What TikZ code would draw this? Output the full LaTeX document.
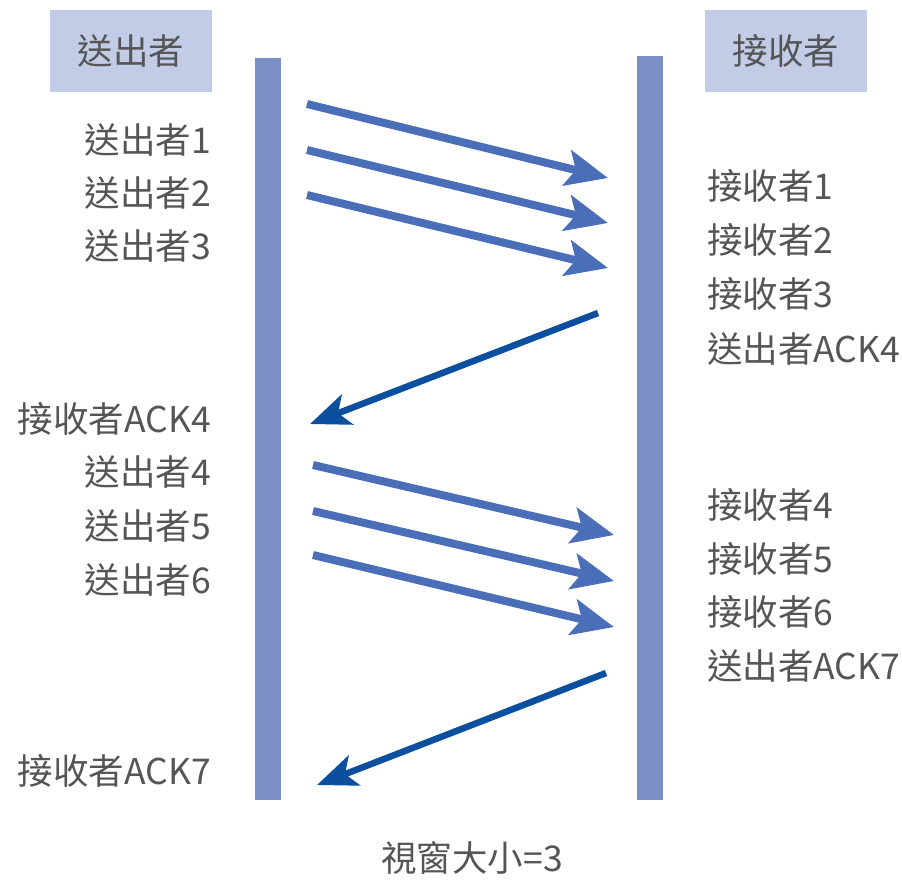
\documentclass[tikz,border=0pt]{standalone}
\usepackage{fontspec}
\setmainfont{Noto Sans CJK TC}
\usetikzlibrary{arrows.meta}
\definecolor{hdrfill}{HTML}{C2CCE6}
\definecolor{barcol}{HTML}{7A90C4}
\definecolor{fwdcol}{HTML}{4A6FB8}
\definecolor{backcol}{HTML}{0B4F9E}
\definecolor{txtcol}{HTML}{555555}
\tikzset{
  hdr/.style={fill=hdrfill, minimum width=162pt, minimum height=82pt, inner sep=0pt, text=txtcol, font=\fontsize{35.5}{38}\selectfont},
  lbl/.style={inner sep=0pt, text=txtcol, font=\fontsize{35.5}{38}\selectfont},
  lftlbl/.style={lbl, anchor=east},
  rgtlbl/.style={lbl, anchor=west},
  vbar/.style={fill=barcol, draw=none},
  fwd/.style={draw=fwdcol, line width=8pt, -{Stealth[length=42pt, width=36pt, inset=9pt]}},
  back/.style={draw=backcol, line width=6.5pt, -{Stealth[length=40pt, width=32pt, inset=10pt]}},
}
\begin{document}
\begin{tikzpicture}[x=1pt, y=-1pt]
\useasboundingbox (0,0) rectangle (902,879);
% headers
\node[hdr] (sh) at (131,51) {送出者};
\node[hdr] (rh) at (786,51) {接收者};
% bars
\fill[vbar] (255,58) rectangle (281,800);
\fill[vbar] (637,56) rectangle (663,800);
% left labels
\node[lftlbl] (s1) at (211,140) {送出者1};
\node[lftlbl] (s2) at (211,193) {送出者2};
\node[lftlbl] (s3) at (211,246) {送出者3};
\node[lftlbl] (ra4) at (211,419) {接收者ACK4};
\node[lftlbl] (s4) at (211,472) {送出者4};
\node[lftlbl] (s5) at (211,526) {送出者5};
\node[lftlbl] (s6) at (211,580) {送出者6};
\node[lftlbl] (ra7) at (211,771) {接收者ACK7};
% right labels
\node[rgtlbl] (r1) at (707,186) {接收者1};
\node[rgtlbl] (r2) at (707,240) {接收者2};
\node[rgtlbl] (r3) at (707,294) {接收者3};
\node[rgtlbl] (sa4) at (707,349) {送出者ACK4};
\node[rgtlbl] (r4) at (707,505) {接收者4};
\node[rgtlbl] (r5) at (707,559) {接收者5};
\node[rgtlbl] (r6) at (707,612) {接收者6};
\node[rgtlbl] (sa7) at (707,666) {送出者ACK7};
% bottom caption
\node[lbl] (cap) at (472,858) {視窗大小=3};
% arrow endpoints
\coordinate (a1s) at (307,104); \coordinate (a1e) at (608,178);
\coordinate (a2s) at (307,150); \coordinate (a2e) at (608,223);
\coordinate (a3s) at (307,195); \coordinate (a3e) at (608,268);
\coordinate (b1s) at (598,313); \coordinate (b1e) at (310,424);
\coordinate (a4s) at (313,465); \coordinate (a4e) at (614,535);
\coordinate (a5s) at (313,511); \coordinate (a5e) at (614,581);
\coordinate (a6s) at (313,555); \coordinate (a6e) at (614,627);
\coordinate (b2s) at (606,673); \coordinate (b2e) at (317,785);
% arrows
\draw[fwd] (a1s) -- (a1e);
\draw[fwd] (a2s) -- (a2e);
\draw[fwd] (a3s) -- (a3e);
\draw[back] (b1s) -- (b1e);
\draw[fwd] (a4s) -- (a4e);
\draw[fwd] (a5s) -- (a5e);
\draw[fwd] (a6s) -- (a6e);
\draw[back] (b2s) -- (b2e);
\end{tikzpicture}
\end{document}
